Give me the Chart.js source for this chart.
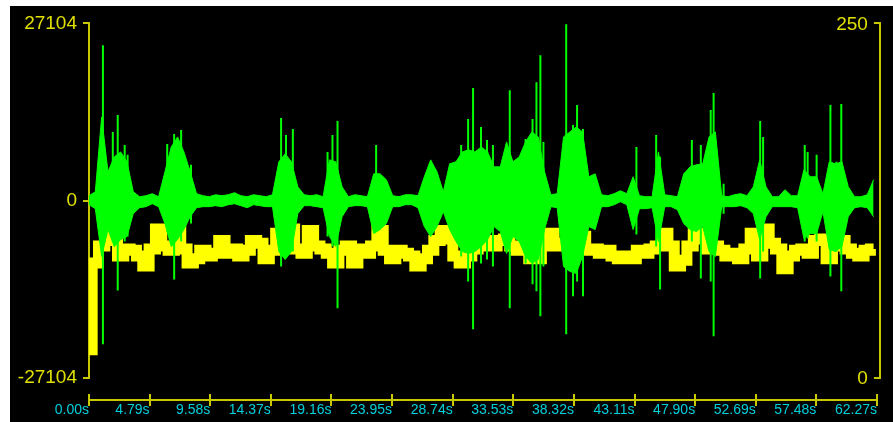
<!DOCTYPE html>
<html>
<head>
<meta charset="utf-8">
<script src="https://cdn.jsdelivr.net/npm/chart.js@4.4.1/dist/chart.umd.min.js"></script>
<style>
  html, body { margin: 0; padding: 0; background: #fff; }
  #wrap { position: absolute; left: 10px; top: 6px; width: 883px; height: 416px; background: #000; }
  canvas { display: block; }
</style>
</head>
<body>
<div id="wrap"><canvas id="wave" width="883" height="416"></canvas></div>
<script>
// seconds between two envelope samples
const binStep = 0.5;

// green waveform envelope (amplitude)
const greenHi = [
  760, 1370, 12790, 4420, 6700, 7460, 5940, 1370, 610, 760,
  1070, 610, 4420, 8220, 9750, 7460, 4420, 1070, 760, 610,
  910, 760, 910, 1220, 760, 610, 910, 760, 610, 910,
  5940, 7160, 5940, 2130, 910, 760, 910, 610, 6240, 5940,
  2130, 610, 910, 760, 610, 4110, 4110, 3200, 760, 610,
  910, 910, 760, 3660, 6240, 4420, 1370, 5640, 5940, 7460,
  7770, 7460, 8220, 7460, 5180, 5180, 8990, 5940, 6700, 8990,
  10510, 9750, 4420, 910, 1070, 9750, 10510, 11270, 10510, 3660,
  4110, 910, 760, 1070, 1520, 1070, 3660, 760, 610, 610,
  7460, 910, 760, 610, 4110, 5180, 5480, 5640, 9750, 10510,
  760, 610, 910, 1070, 760, 2130, 6240, 2130, 610, 610,
  1680, 760, 760, 4720, 3660, 3660, 1070, 5940, 5640, 5940,
  2130, 610, 610, 910, 3200
];
const greenLo = [
  -610, -1220, -8530, -4420, -7010, -5940, -5480, -1980, -1070, -910,
  -460, -910, -3500, -7010, -5940, -4420, -2440, -1070, -910, -910,
  -760, -910, -610, -460, -760, -1070, -610, -760, -910, -910,
  -7770, -8990, -7770, -1980, -760, -760, -910, -1070, -5480, -7010,
  -2440, -910, -760, -760, -910, -5030, -4420, -3500, -910, -910,
  -610, -610, -1070, -3960, -5480, -3960, -1680, -4420, -6240, -7770,
  -8070, -7770, -7010, -5940, -3960, -4720, -8070, -5480, -6240, -8530,
  -9600, -8990, -4420, -910, -1070, -10050, -10810, -11120, -8530, -3960,
  -4420, -910, -910, -610, -150, -610, -4420, -1220, -1220, -1070,
  -6240, -910, -910, -1370, -3500, -4420, -4720, -3960, -7770, -8530,
  -910, -910, -910, -760, -1070, -1980, -5940, -2440, -910, -910,
  -910, -910, -1070, -5790, -5030, -5030, -1680, -7460, -7770, -7010,
  -2440, -1070, -910, -1070, -2440
];

// single tall peaks of the waveform
const spikeTime = [1.10, 1.88, 2.27, 2.82, 3.05, 6.18, 6.73, 7.28, 8.06, 15.18, 15.57, 16.11,
  18.85, 19.24, 19.64, 22.69, 29.41, 29.96, 30.35, 30.98, 31.45, 31.92, 33.25, 34.50,
  35.05, 35.36, 35.67, 35.91, 37.71, 38.25, 38.57, 39.04, 43.26, 44.82, 45.13, 47.64,
  48.35, 49.13, 49.36, 50.15, 53.04, 53.27, 56.56, 56.79, 57.50, 58.59, 59.06, 59.45];
const spikeTop = [23760, 10510, 13100, 8530, 7010, 8680, 10200, 10810, 5480, 12640, 10050, 10970,
  7460, 10050, 12180, 8530, 8530, 12490, 17210, 11270, 9290, 8530, 16900, 9440,
  12490, 18120, 22240, 8990, 26960, 11570, 14620, 10970, 8220, 10050, 6700, 9290,
  8530, 13860, 16450, 2590, 12180, 9750, 8530, 7460, 7010, 14620, 5940, 14770];
const spikeBottom = [-21930, -6240, -13710, -6240, -5480, -4720, -12030, -6240, -3500, -10050, -8530, -7770,
  -5480, -7010, -16450, -4420, -8530, -12340, -19650, -9600, -8990, -10050, -16450, -9600,
  -12790, -13860, -17670, -10050, -20410, -14620, -12340, -14620, -5180, -7010, -13560, -6240,
  -11880, -12340, -20710, -1980, -11880, -7770, -6240, -5790, -6240, -11580, -7770, -13860];

// yellow trace, right axis (0..250)
const yellowLevel = [
  20, 81, 93, 107, 97, 86, 91, 90, 86, 79,
  91, 105, 93, 90, 105, 91, 81, 84, 90, 86,
  88, 97, 88, 91, 86, 90, 97, 95, 84, 90,
  102, 92, 105, 91, 88, 104, 93, 91, 88, 81,
  90, 93, 81, 91, 88, 93, 104, 90, 84, 90,
  88, 86, 79, 84, 90, 97, 104, 98, 86, 81,
  86, 91, 93, 97, 93, 97, 98, 93, 90, 90,
  84, 84, 93, 102, 93, 95, 93, 102, 100, 90,
  91, 88, 90, 86, 84, 86, 84, 90, 88, 91,
  93, 102, 93, 79, 83, 93, 102, 98, 91, 93,
  90, 86, 88, 84, 91, 102, 86, 105, 95, 91,
  77, 86, 90, 91, 88, 97, 98, 84, 93, 97,
  91, 88, 86, 90, 91
];

const xTickValues = [0, 4.79, 9.58, 14.37, 19.16, 23.95, 28.74, 33.53, 38.32, 43.11, 47.90, 52.69, 57.48, 62.27];
const leftTicks = [-27104, 0, 27104];
const rightTicks = [0, 250];

const AXIS = '#c8c800';
const LABEL_Y = '#e0e000';
const LABEL_X = '#00d0dc';
const GREEN = '#00ff00';
const YELLOW = '#ffff00';
const FONT = "'Liberation Sans', Arial, sans-serif";

function toPoints(values) {
  return values.map((v, i) => ({ x: i * binStep, y: v }));
}

function spikePoints() {
  const pts = [];
  spikeTime.forEach((t, i) => {
    pts.push({ x: t, y: spikeTop[i] }, { x: t, y: spikeBottom[i] }, { x: t, y: null });
  });
  return pts;
}

// x axis sits below the plot; right axis has inward ticks and labels inside
const axisDecor = {
  id: 'axisDecor',
  afterDraw(chart) {
    const { ctx, scales: { x, y2 } } = chart;
    const axisY = 394;
    ctx.save();
    ctx.strokeStyle = AXIS;
    ctx.lineWidth = 2;
    ctx.beginPath();
    ctx.moveTo(x.getPixelForValue(0), axisY);
    ctx.lineTo(x.getPixelForValue(xTickValues[xTickValues.length - 1]) + 1, axisY);
    xTickValues.forEach(v => {
      const px = Math.round(x.getPixelForValue(v));
      ctx.moveTo(px, axisY - 6);
      ctx.lineTo(px, axisY + 6);
    });
    rightTicks.forEach(v => {
      const py = Math.round(y2.getPixelForValue(v));
      ctx.moveTo(x.right, py);
      ctx.lineTo(x.right - 6, py);
    });
    ctx.stroke();

    ctx.fillStyle = LABEL_Y;
    ctx.font = '19px ' + FONT;
    ctx.textAlign = 'right';
    ctx.textBaseline = 'middle';
    rightTicks.forEach(v => {
      ctx.fillText(String(v), x.right - 12, y2.getPixelForValue(v) + 1);
    });
    ctx.restore();
  }
};

function drawChart() {
  const ctx = document.getElementById('wave').getContext('2d');
  new Chart(ctx, {
    type: 'line',
    data: {
      datasets: [
        {
          data: toPoints(greenHi),
          borderColor: GREEN,
          backgroundColor: GREEN,
          borderWidth: 1,
          fill: '+1',
          tension: 0,
          pointRadius: 0,
          yAxisID: 'y',
        },
        {
          data: toPoints(greenLo),
          borderColor: GREEN,
          borderWidth: 1,
          fill: false,
          tension: 0,
          pointRadius: 0,
          yAxisID: 'y',
        },
        {
          data: spikePoints(),
          borderColor: GREEN,
          borderWidth: 2,
          fill: false,
          pointRadius: 0,
          spanGaps: false,
          yAxisID: 'y',
        },
        {
          data: toPoints(yellowLevel),
          borderColor: YELLOW,
          borderWidth: 11,
          stepped: 'middle',
          fill: false,
          pointRadius: 0,
          clip: 0,
          yAxisID: 'y2',
        },
      ],
    },
    options: {
      responsive: false,
      animation: false,
      devicePixelRatio: 1,
      layout: { padding: { top: 15, left: 0, right: 0, bottom: 0 } },
      plugins: {
        legend: { display: false },
        tooltip: { enabled: false },
      },
      scales: {
        x: {
          type: 'linear',
          min: 0,
          max: 62.5,
          afterBuildTicks: ax => { ax.ticks = xTickValues.map(v => ({ value: v })); },
          afterFit: ax => { ax.height = 44; },
          grid: { display: false },
          border: { display: false },
          ticks: {
            autoSkip: false,
            maxRotation: 0,
            align: 'end',
            padding: 16,
            color: LABEL_X,
            font: { family: FONT, size: 14 },
            callback: v => v.toFixed(2) + 's',
          },
        },
        y: {
          position: 'left',
          min: -27104,
          max: 27104,
          afterBuildTicks: ax => { ax.ticks = leftTicks.map(v => ({ value: v })); },
          afterFit: ax => { ax.width = 79; },
          grid: { drawOnChartArea: false, color: AXIS, lineWidth: 2, tickLength: 6 },
          border: { color: AXIS, width: 2 },
          ticks: {
            color: LABEL_Y,
            padding: 6,
            font: { family: FONT, size: 19 },
            callback: v => String(v),
          },
        },
        y2: {
          position: 'right',
          min: 0,
          max: 250,
          afterBuildTicks: ax => { ax.ticks = rightTicks.map(v => ({ value: v })); },
          afterFit: ax => { ax.width = 5; },
          grid: { display: false },
          border: { color: AXIS, width: 2 },
          ticks: { display: false },
        },
      },
    },
    plugins: [axisDecor],
  });
}

document.fonts.load("19px 'Liberation Sans'").then(drawChart, drawChart);
</script>
</body>
</html>
